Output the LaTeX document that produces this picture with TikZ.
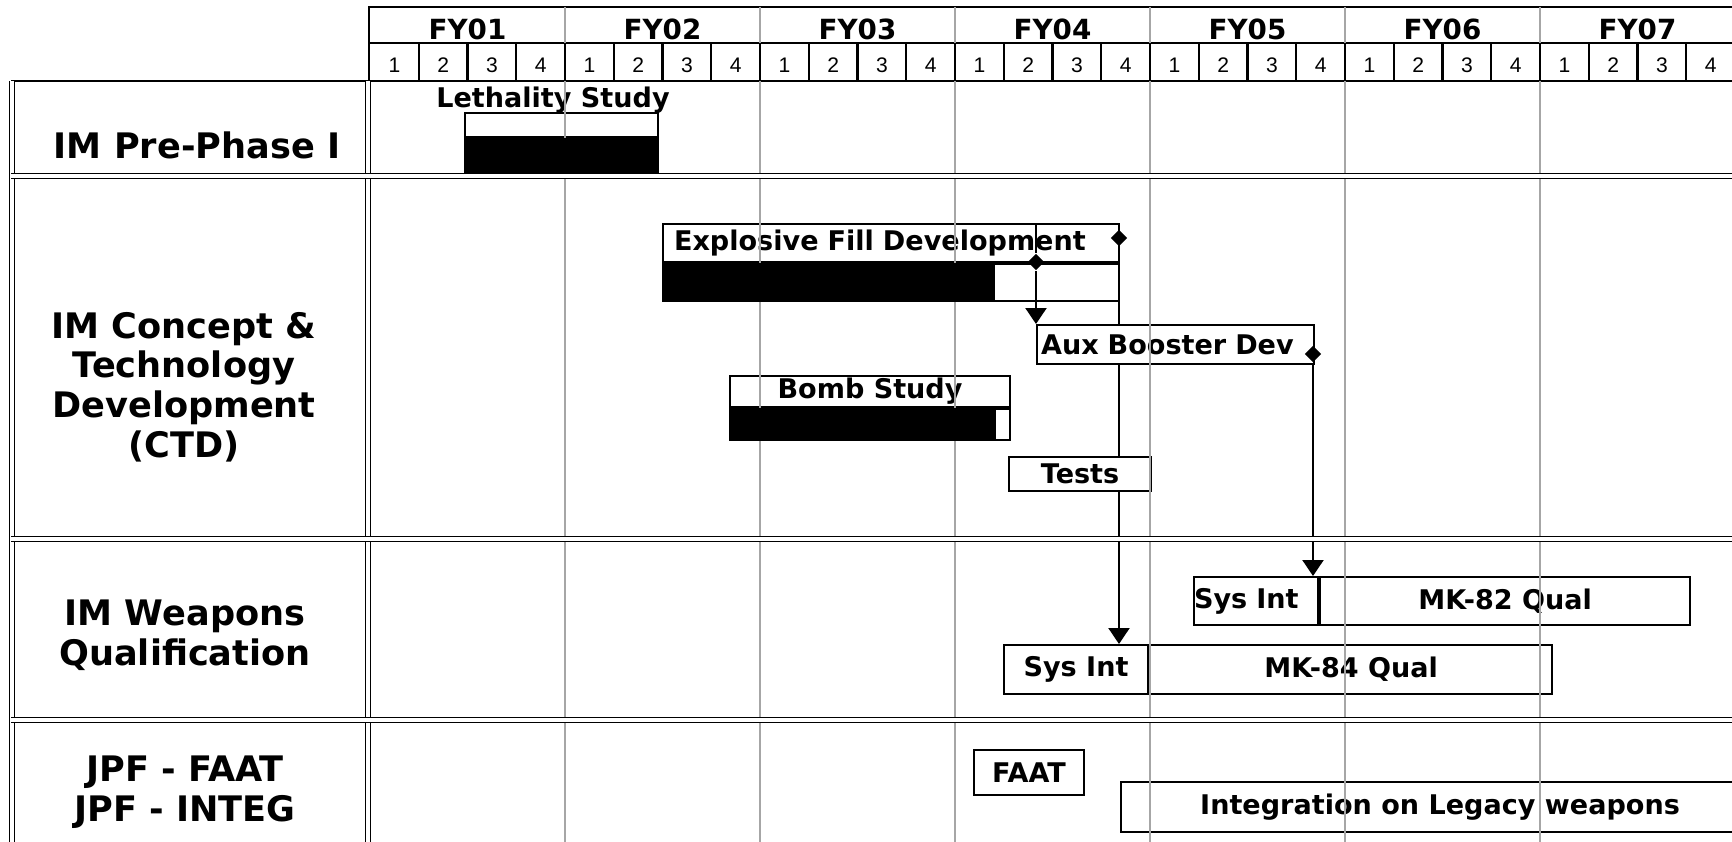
\documentclass[tikz,border=0pt]{standalone}
\usepackage{fontspec}
\setmainfont{DejaVu Sans}
\newfontfamily\qtrfont{Liberation Sans}
\usetikzlibrary{arrows.meta,shapes.geometric,backgrounds}

\begin{document}
\begin{tikzpicture}[x=0.1mm, y=-0.1mm,
    rowlabel/.style={align=center, font=\bfseries\fontsize{10}{11.3}\selectfont},
    yearlabel/.style={font=\bfseries\fontsize{7.9}{9}\selectfont},
    qtrlabel/.style={font=\qtrfont\fontsize{6}{7}\selectfont},
    taskbox/.style={draw, fill=white, line width=0.6pt, inner sep=0pt, anchor=north west,
                    font=\bfseries\fontsize{7.7}{9}\selectfont},
    donebar/.style={taskbox, fill=black},
    milestone/.style={diamond, fill=black, inner sep=0pt, minimum width=0.17cm, minimum height=0.17cm},
    link/.style={line width=0.6pt, -{Triangle[width=0.21cm, length=0.16cm]}},
    yearline/.style={black!35, line width=0.5pt},
    rowsep/.style={double, double distance=0.9pt, line width=0.45pt}]

  \useasboundingbox (0,0) rectangle (1732,841);
  \clip (0,0) rectangle (1732,841);

  % timeline header: fiscal years and quarters (x in px, 195 px per year)
  \draw[line width=0.6pt] (369,81) |- (1740,7);
  \draw[line width=0.6pt] (369,43) -- (1740,43);
  \foreach \yr [count=\k from 0] in {01,02,03,04,05,06,07}
    \node[yearlabel] (fy\yr) at (467.5+195*\k,29) {FY\yr};
  \foreach \q in {0,...,27} {
    \pgfmathtruncatemacro{\qn}{mod(\q,4)+1}
    \node[qtrlabel] (q\q) at (394.4+48.75*\q,65) {\qn};
  }
  \foreach \q in {1,...,28}
    \draw[line width=0.6pt] (370+48.75*\q,43) -- (370+48.75*\q,81);

  % row labels
  \draw[line width=0.6pt] (11,81) -- (1740,81);
  \node[rowlabel] (prephase) at (197,145) {IM Pre-Phase I};
  \node[rowlabel] (ctd) at (184,387) {IM Concept \&\\Technology\\Development\\(CTD)};
  \node[rowlabel] (qual) at (185,635) {IM Weapons\\Qualification};
  \node[rowlabel] (jpf) at (185,792) {JPF - FAAT\\JPF - INTEG};

  % tasks
  \node[font=\bfseries\fontsize{7.7}{9}\selectfont] (lethlabel) at (553,100) {Lethality Study};
  \node[taskbox, minimum width=1.93cm, minimum height=0.24cm] (leth) at (464,112) {};
  \node[taskbox, minimum width=4.56cm, minimum height=0.38cm, text width=4.34cm,
        inner xsep=0.11cm, align=left] (efd) at (662,223) {Explosive Fill Development};
  \node[taskbox, minimum width=4.56cm, minimum height=0.37cm] (efdrest) at (efd.south west) {};
  \node[taskbox, minimum width=2.77cm, minimum height=0.39cm, text width=2.69cm,
        inner xsep=0.04cm, align=left] (aux) at (1036,324) {Aux Booster Dev};
  \node[taskbox, minimum width=2.80cm, minimum height=0.31cm] (bomb) at (729,375) {Bomb Study};
  \node[taskbox, minimum width=2.80cm, minimum height=0.31cm] (bombrest) at (bomb.south west) {};
  \node[taskbox, minimum width=1.42cm, minimum height=0.34cm] (tests) at (1008,456) {Tests};
  \node[taskbox, minimum width=1.24cm, minimum height=0.48cm, text width=1.24cm,
        align=left] (mk82s) at (1193,576) {Sys Int};
  \node[taskbox, minimum width=3.70cm, minimum height=0.48cm] (mk82q) at (mk82s.north east) {MK-82 Qual};
  \node[taskbox, minimum width=1.44cm, minimum height=0.49cm] (mk84s) at (1003,644) {Sys Int};
  \node[taskbox, minimum width=4.02cm, minimum height=0.49cm] (mk84q) at (mk84s.north east) {MK-84 Qual};
  \node[taskbox, minimum width=1.10cm, minimum height=0.45cm] (faat) at (973,749) {FAAT};
  \node[taskbox, minimum width=6.38cm, minimum height=0.50cm] (integ) at (1120,781) {Integration on Legacy weapons};

  % year grid over the bars
  \foreach \k in {1,...,6} {
    \draw[yearline] (370+195*\k,7) -- (370+195*\k,43);
    \draw[yearline] (370+195*\k,81) -- (370+195*\k,850);
  }

  % progress
  \node[donebar, minimum width=1.93cm, minimum height=0.33cm] (lethdone) at (leth.south west) {};
  \node[donebar, minimum width=3.31cm, minimum height=0.37cm] (efddone) at (efd.south west) {};
  \node[donebar, minimum width=2.65cm, minimum height=0.31cm] (bombdone) at (bomb.south west) {};

  % milestones and links
  \node[milestone] (msA) at (1036,262) {};
  \node[milestone] (msB) at (1119,238) {};
  \node[milestone] (msC) at (1313,354) {};
  \draw[line width=0.6pt] (msA |- efd.north) -- (msA);
  \draw[link] (msA) -- (msA |- aux.north);
  \draw[link] (msC) -- (msC |- mk82s.north);
  \begin{pgfonlayer}{background}
    \draw[link] (msB) -- (msB |- mk84s.north);
  \end{pgfonlayer}

  % frame
  \draw[rowsep] (12,81) -- (12,850);
  \draw[rowsep] (368,81) -- (368,850);
  \foreach \y in {176,539,720}
    \draw[rowsep] (11,\y) -- (1740,\y);
\end{tikzpicture}
\end{document}
